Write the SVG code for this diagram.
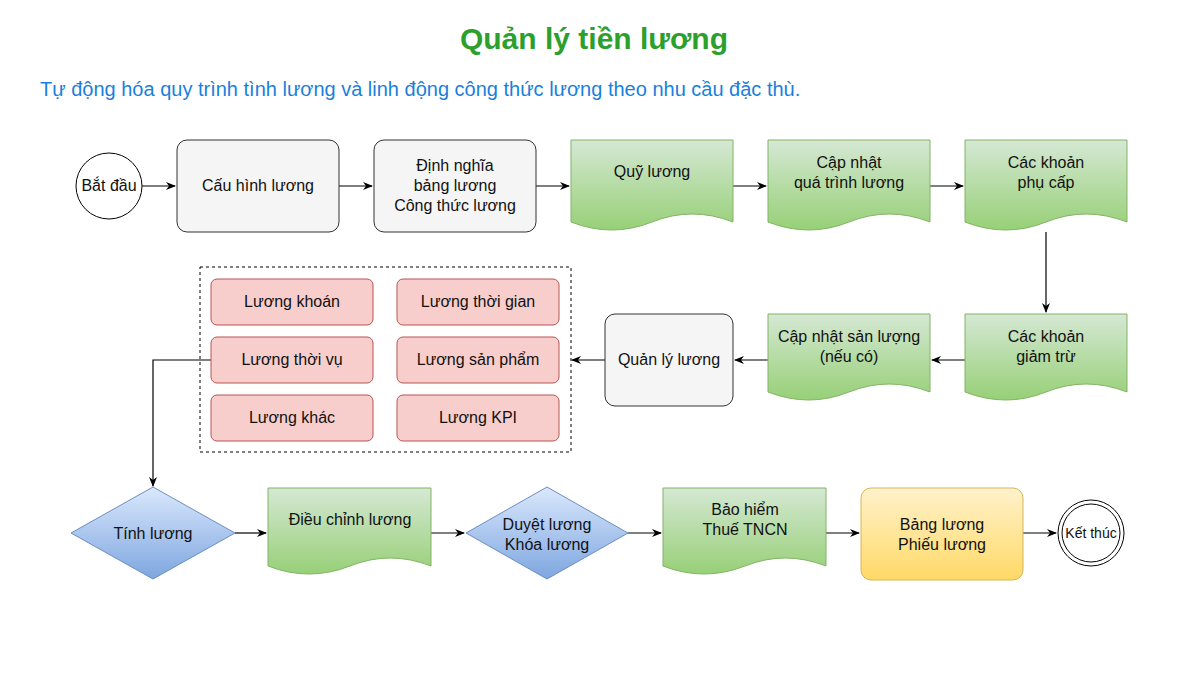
<svg xmlns="http://www.w3.org/2000/svg" width="1200" height="675" viewBox="0 0 1200 675">
<defs>
<linearGradient id="gG" x1="0" y1="0" x2="0" y2="1"><stop offset="0" stop-color="#d5e8d4"/><stop offset="1" stop-color="#97d077"/></linearGradient>
<linearGradient id="gB" x1="0" y1="0" x2="0" y2="1"><stop offset="0" stop-color="#dae8fc"/><stop offset="1" stop-color="#7ea6e0"/></linearGradient>
<linearGradient id="gY" x1="0" y1="0" x2="0" y2="1"><stop offset="0" stop-color="#fff2cc"/><stop offset="1" stop-color="#ffd966"/></linearGradient>
<marker id="ar" markerWidth="10" markerHeight="10" refX="9" refY="5" orient="auto" markerUnits="userSpaceOnUse"><path d="M0,1 L10,5 L0,9 L3,5 Z" fill="#000"/></marker>
<style>
text{font-family:Arial,"Liberation Sans",sans-serif;font-size:16px;fill:#111;text-anchor:middle}
.doc{fill:url(#gG);stroke:#82b366;stroke-width:1}
.gray{fill:#f5f5f5;stroke:#333;stroke-width:1}
.red{fill:#f8cecc;stroke:#b85450;stroke-width:1}
.dia{fill:url(#gB);stroke:#6c8ebf;stroke-width:1}
.c{fill:none;stroke:#000;stroke-width:1.2}
</style>
</defs>
<rect width="1200" height="675" fill="#fff"/>
<text x="594" y="49" style="font-size:30px;font-weight:bold;fill:#2ca02c">Quản lý tiền lương</text>
<text x="40" y="96" style="font-size:20px;fill:#1a7fdb;text-anchor:start">Tự động hóa quy trình tình lương và linh động công thức lương theo nhu cầu đặc thù.</text>
<g id="connectors">
<path class="c" d="M142,186 H175" marker-end="url(#ar)"/>
<path class="c" d="M339,186 H372" marker-end="url(#ar)"/>
<path class="c" d="M536,186 H569" marker-end="url(#ar)"/>
<path class="c" d="M733,186 H766" marker-end="url(#ar)"/>
<path class="c" d="M930,186 H963" marker-end="url(#ar)"/>
<path class="c" d="M1046,232 V312" marker-end="url(#ar)"/>
<path class="c" d="M965,360 H932" marker-end="url(#ar)"/>
<path class="c" d="M768,360 H735" marker-end="url(#ar)"/>
<path class="c" d="M605,360 H572" marker-end="url(#ar)"/>
<path class="c" d="M211,360 H153 V486" marker-end="url(#ar)"/>
<path class="c" d="M235,533 H266" marker-end="url(#ar)"/>
<path class="c" d="M431,533 H464" marker-end="url(#ar)"/>
<path class="c" d="M628,533 H661" marker-end="url(#ar)"/>
<path class="c" d="M826,533 H859" marker-end="url(#ar)"/>
<path class="c" d="M1023,533 H1056" marker-end="url(#ar)"/>
</g>
<g id="start"><circle cx="109" cy="186" r="33" fill="#fff" stroke="#000"/><text x="109" y="191">Bắt đầu</text></g>
<g id="cauhinh"><rect class="gray" x="177" y="140" width="162" height="92" rx="10"/><text x="258" y="191">Cấu hình lương</text></g>
<g id="dinhnghia"><rect class="gray" x="374" y="140" width="162" height="92" rx="10"/><text x="455" y="171">Định nghĩa</text><text x="455" y="191">bảng lương</text><text x="455" y="211">Công thức lương</text></g>
<g id="quyluong"><path class="doc" d="M571,140 H733 V222 Q692,206 652,222 Q612,238 571,222 Z"/><text x="652" y="177">Quỹ lương</text></g>
<g id="capnhat"><path class="doc" d="M768,140 H930 V222 Q889,206 849,222 Q809,238 768,222 Z"/><text x="849" y="168">Cập nhật</text><text x="849" y="188">quá trình lương</text></g>
<g id="phucap"><path class="doc" d="M965,140 H1127 V222 Q1086,206 1046,222 Q1006,238 965,222 Z"/><text x="1046" y="168">Các khoản</text><text x="1046" y="188">phụ cấp</text></g>
<g id="giamtru"><path class="doc" d="M965,314 H1127 V392 Q1086,376 1046,392 Q1006,408 965,392 Z"/><text x="1046" y="342">Các khoản</text><text x="1046" y="362">giảm trừ</text></g>
<g id="sanluong"><path class="doc" d="M768,314 H930 V392 Q889,376 849,392 Q809,408 768,392 Z"/><text x="849" y="342">Cập nhật sản lượng</text><text x="849" y="362">(nếu có)</text></g>
<g id="quanly"><rect class="gray" x="605" y="314" width="128" height="92" rx="10"/><text x="669" y="365">Quản lý lương</text></g>
<g id="group"><rect x="200" y="267" width="371" height="185" fill="none" stroke="#000" stroke-dasharray="3,3"/></g>
<g id="khoan"><rect class="red" x="211" y="279" width="162" height="46" rx="6"/><text x="292" y="307">Lương khoán</text></g>
<g id="thoigian"><rect class="red" x="397" y="279" width="162" height="46" rx="6"/><text x="478" y="307">Lương thời gian</text></g>
<g id="thoivu"><rect class="red" x="211" y="337" width="162" height="46" rx="6"/><text x="292" y="365">Lương thời vụ</text></g>
<g id="sanpham"><rect class="red" x="397" y="337" width="162" height="46" rx="6"/><text x="478" y="365">Lương sản phẩm</text></g>
<g id="khac"><rect class="red" x="211" y="395" width="162" height="46" rx="6"/><text x="292" y="423">Lương khác</text></g>
<g id="kpi"><rect class="red" x="397" y="395" width="162" height="46" rx="6"/><text x="478" y="423">Lương KPI</text></g>
<g id="tinhluong"><path class="dia" d="M153,487 L235,533 L153,579 L71,533 Z"/><text x="153" y="539">Tính lương</text></g>
<g id="dieuchinh"><path class="doc" d="M268,488 H431 V566 Q390,550 350,566 Q309,582 268,566 Z"/><text x="350" y="525">Điều chỉnh lương</text></g>
<g id="duyet"><path class="dia" d="M547,487 L628,533 L547,579 L466,533 Z"/><text x="547" y="530">Duyệt lương</text><text x="547" y="550">Khóa lương</text></g>
<g id="baohiem"><path class="doc" d="M663,488 H826 V566 Q785,550 745,566 Q704,582 663,566 Z"/><text x="745" y="515">Bảo hiểm</text><text x="745" y="535">Thuế TNCN</text></g>
<g id="bangluong"><rect x="861" y="488" width="162" height="92" rx="10" fill="url(#gY)" stroke="#d6b656"/><text x="942" y="530">Bảng lương</text><text x="942" y="550">Phiếu lương</text></g>
<g id="end"><circle cx="1091" cy="533" r="33" fill="#fff" stroke="#000"/><circle cx="1091" cy="533" r="29" fill="none" stroke="#000"/><text x="1091" y="538" style="font-size:14px">Kết thúc</text></g>
</svg>
